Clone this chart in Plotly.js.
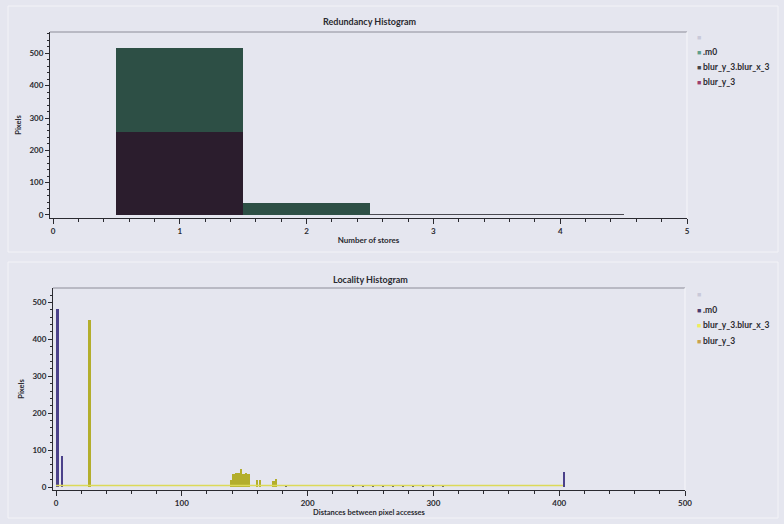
<!DOCTYPE html>
<html>
<head>
<meta charset="utf-8">
<script src="https://cdn.plot.ly/plotly-3.0.1.min.js"></script>
<style>
  html, body { margin: 0; padding: 0; background: #e5e6ef; }
  #chart { width: 784px; height: 524px; }
</style>
</head>
<body>
<div id="chart"></div>
<script>
// ---- Redundancy histogram: pixels per number of stores ----
const storeBins = [1, 2, 3, 4];
const storeBlurY = [257, 0, 0, 0];          // blur_y_3
const storeBlurXY = [258, 36, 3, 3];        // blur_y_3.blur_x_3 (stacked on top)

// ---- Locality histogram: pixels per distance between accesses ----
const m0Dist = [1.2, 4.7, 403.5];
const m0Pixels = [482, 84, 40];

const blurXYDist = [26.7, 139, 141, 143, 145, 147, 149, 151, 153, 160, 162, 173, 175];
const blurXYPixels = [452, 19, 34, 37, 38, 50, 36, 38, 35, 18, 19, 17, 23];

const sparseDist = [183, 236, 244, 252, 260, 268, 276, 284, 292, 300, 308];
const sparsePixels = [6, 6, 6, 6, 6, 6, 6, 6, 6, 6, 6];

const floorDist = [0, 403];
const floorPixels = [4, 4];

// legend entries (label, colour) for each panel
const topLegendLabels = ['', '.m0', 'blur_y_3.blur_x_3', 'blur_y_3'];
const topLegendColors = ['#c9c9d9', '#5f9e8c', '#45454a', '#9c3f6e'];
const botLegendLabels = ['', '.m0', 'blur_y_3.blur_x_3', 'blur_y_3'];
const botLegendColors = ['#c9c9d9', '#4a3a6e', '#f0ee5a', '#c9a24e'];

const FONT = 'Lato, "Open Sans", sans-serif';
const INK = '#2a2a30';

const traces = [
  { type: 'bar', x: storeBins, y: storeBlurY, width: storeBins.map(() => 1),
    marker: { color: '#2b1d2d', line: { width: 0 } }, name: 'blur_y_3',
    xaxis: 'x', yaxis: 'y' },
  { type: 'bar', x: storeBins, y: storeBlurXY, width: storeBins.map(() => 1),
    marker: { color: ['#2d4f45', '#2d4f45', '#4a4a52', '#4a4a52'], line: { width: 0 } },
    name: 'blur_y_3.blur_x_3', xaxis: 'x', yaxis: 'y' },

  { type: 'scatter', mode: 'lines', x: floorDist, y: floorPixels,
    line: { color: '#dcd958', width: 1.5 }, name: 'floor',
    xaxis: 'x2', yaxis: 'y2' },
  { type: 'bar', x: m0Dist, y: m0Pixels, width: [2.3, 1.6, 1.6],
    marker: { color: '#4b418a', line: { width: 0 } }, name: '.m0',
    xaxis: 'x2', yaxis: 'y2' },
  { type: 'bar', x: blurXYDist, y: blurXYPixels, width: blurXYDist.map(() => 1.9),
    marker: { color: '#b3ae2c', line: { width: 0 } }, name: 'blur_y_3.blur_x_3',
    xaxis: 'x2', yaxis: 'y2' },
  { type: 'bar', x: sparseDist, y: sparsePixels, width: sparseDist.map(() => 1.6),
    marker: { color: '#50506a', line: { width: 0 } }, name: 'sparse',
    xaxis: 'x2', yaxis: 'y2' }
];

const axisCommon = {
  showline: true, linecolor: INK, linewidth: 1,
  ticks: 'outside', tickcolor: INK, tickwidth: 1, ticklen: 4,
  showgrid: false, zeroline: false,
  tickfont: { family: FONT, size: 8, color: INK, weight: 'bold' },
  fixedrange: true
};

function legendAnnotations(labels, colors, x, yTop, step) {
  const out = [];
  labels.forEach((lab, i) => {
    const y = yTop - i * step;
    out.push({ xref: 'paper', yref: 'paper', x: x, y: y, xanchor: 'left', yanchor: 'middle',
      text: '■', showarrow: false, font: { family: FONT, size: 7, color: colors[i] } });
    if (lab) {
      out.push({ xref: 'paper', yref: 'paper', x: x + 0.008, y: y, xanchor: 'left', yanchor: 'middle',
        text: lab, showarrow: false, font: { family: FONT, size: 8.5, color: INK, weight: 'bold' } });
    }
  });
  return out;
}

const layout = {
  width: 784, height: 524,
  margin: { l: 0, r: 0, t: 0, b: 0 },
  paper_bgcolor: '#e5e6ef', plot_bgcolor: 'rgba(0,0,0,0)',
  showlegend: false, barmode: 'stack',
  font: { family: FONT, color: INK },

  xaxis: Object.assign({}, axisCommon, {
    domain: [50 / 784, 687 / 784], range: [-0.024, 5], anchor: 'y',
    tickvals: [0, 1, 2, 3, 4, 5], ticklen: 5,
    minor: { dtick: 0.2, tick0: 0, ticks: 'outside', ticklen: 3, tickcolor: INK },
    title: { text: 'Number of stores', standoff: 2,
      font: { family: FONT, size: 8, color: INK, weight: 'bold' } }
  }),
  yaxis: Object.assign({}, axisCommon, {
    domain: [1 - 218 / 524, 1 - 32 / 524], range: [-9.3, 566], anchor: 'x',
    tickvals: [0, 100, 200, 300, 400, 500],
    minor: { dtick: 20, tick0: 0, ticks: 'outside', ticklen: 2, tickcolor: INK },
    title: { text: 'Pixels', standoff: 6,
      font: { family: FONT, size: 7.5, color: INK, weight: 'bold' } }
  }),

  xaxis2: Object.assign({}, axisCommon, {
    domain: [53 / 784, 685 / 784], range: [-2.4, 500], anchor: 'y2',
    tickvals: [0, 100, 200, 300, 400, 500], ticklen: 5,
    minor: { dtick: 20, tick0: 0, ticks: 'outside', ticklen: 3, tickcolor: INK },
    title: { text: 'Distances between pixel accesses', standoff: 2,
      font: { family: FONT, size: 7.5, color: INK, weight: 'bold' } }
  }),
  yaxis2: Object.assign({}, axisCommon, {
    domain: [1 - 490 / 524, 1 - 288 / 524], range: [-8.1, 539], anchor: 'x2',
    tickvals: [0, 100, 200, 300, 400, 500],
    minor: { dtick: 20, tick0: 0, ticks: 'outside', ticklen: 2, tickcolor: INK },
    title: { text: 'Pixels', standoff: 6,
      font: { family: FONT, size: 7.5, color: INK, weight: 'bold' } }
  }),

  shapes: [
    // panel frames
    { type: 'rect', xref: 'paper', yref: 'paper', x0: 8 / 784, x1: 778 / 784,
      y0: 1 - 252 / 524, y1: 1 - 6 / 524, line: { color: '#f3f3f7', width: 1 }, layer: 'below' },
    { type: 'rect', xref: 'paper', yref: 'paper', x0: 8 / 784, x1: 778 / 784,
      y0: 1 - 518 / 524, y1: 1 - 262 / 524, line: { color: '#f3f3f7', width: 1 }, layer: 'below' },
    // plot frame: grey top edge, pale right edge
    { type: 'line', xref: 'x domain', yref: 'y domain', x0: 0, x1: 1, y0: 1, y1: 1,
      line: { color: '#8c8c98', width: 1 } },
    { type: 'line', xref: 'x domain', yref: 'y domain', x0: 1, x1: 1, y0: 0, y1: 1,
      line: { color: '#f6f6fa', width: 1 } },
    { type: 'line', xref: 'x2 domain', yref: 'y2 domain', x0: 0, x1: 1, y0: 1, y1: 1,
      line: { color: '#8c8c98', width: 1 } },
    { type: 'line', xref: 'x2 domain', yref: 'y2 domain', x0: 1, x1: 1, y0: 0, y1: 1,
      line: { color: '#f6f6fa', width: 1 } }
  ],

  annotations: [
    { xref: 'paper', yref: 'paper', x: 370 / 784, y: 1 - 21 / 524, xanchor: 'center', yanchor: 'middle',
      text: 'Redundancy Histogram', showarrow: false,
      font: { family: FONT, size: 9, color: INK, weight: 'bold' } },
    { xref: 'paper', yref: 'paper', x: 370 / 784, y: 1 - 279 / 524, xanchor: 'center', yanchor: 'middle',
      text: 'Locality Histogram', showarrow: false,
      font: { family: FONT, size: 9, color: INK, weight: 'bold' } }
  ]
    .concat(legendAnnotations(topLegendLabels, topLegendColors, 695 / 784, 1 - 37 / 524, 15 / 524))
    .concat(legendAnnotations(botLegendLabels, botLegendColors, 695 / 784, 1 - 294 / 524, 15.7 / 524))
};

Plotly.newPlot('chart', traces, layout, { staticPlot: true, displayModeBar: false });
</script>
</body>
</html>
